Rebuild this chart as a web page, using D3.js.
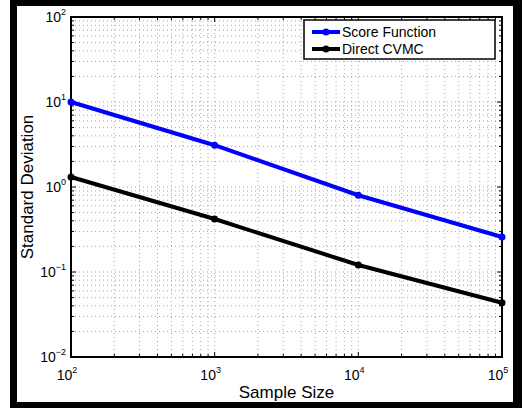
<!DOCTYPE html>
<html>
<head>
<meta charset="utf-8">
<script src="https://cdn.jsdelivr.net/npm/d3@7"></script>
<style>
  body { margin: 0; background: #fff; }
  svg { display: block; font-family: "Liberation Sans", Arial, Helvetica, sans-serif; }
</style>
</head>
<body>
<div class="chartDiv"></div>
<script>
"use strict";

// Data:
var sampleSizes = [100, 1000, 10000, 100000];
var scoreFunction = [10, 3.1, 0.80, 0.258];
var directCVMC = [1.31, 0.42, 0.121, 0.0435];
var xTickExps = [2, 3, 4, 5];
var yTickExps = [-2, -1, 0, 1, 2];
var seriesNames = ["Score Function", "Direct CVMC"];
var seriesColors = ["#0000ff", "#000000"];

// SVG Properties:
var width = 522, height = 409;
var plot = { left: 71, right: 502, top: 17, bottom: 357 };

var svg = d3.select(".chartDiv").append("svg")
    .attr("width", width)
    .attr("height", height);

// black frame around the figure
svg.append("path")
    .attr("fill-rule", "evenodd")
    .attr("fill", "#000")
    .attr("d", "M10,0H522V408H10Z M17,6H513V402H17Z");

var x = d3.scaleLog().domain([1e2, 1e5]).range([plot.left, plot.right]);
var y = d3.scaleLog().domain([1e-2, 1e2]).range([plot.bottom, plot.top]);

var g = svg.append("g");

// grid (major + minor), dotted
var xGrid = [], yGrid = [];
for (var e = 2; e < 5; e++)
    for (var m = 1; m <= 9; m++) xGrid.push(m * Math.pow(10, e));
for (var e2 = -2; e2 < 2; e2++)
    for (var m2 = 1; m2 <= 9; m2++) yGrid.push(m2 * Math.pow(10, e2));

g.selectAll(".xgrid").data(xGrid.slice(1)).enter().append("line")
    .attr("x1", function(d) { return x(d); })
    .attr("x2", function(d) { return x(d); })
    .attr("y1", plot.top).attr("y2", plot.bottom)
    .attr("stroke", "#a8a8a8").attr("stroke-width", 1)
    .attr("stroke-dasharray", "1,3");

g.selectAll(".ygrid").data(yGrid.slice(1)).enter().append("line")
    .attr("y1", function(d) { return y(d); })
    .attr("y2", function(d) { return y(d); })
    .attr("x1", plot.left).attr("x2", plot.right)
    .attr("stroke", "#a8a8a8").attr("stroke-width", 1)
    .attr("stroke-dasharray", "1,3");

// minor/major ticks inside the box
var tickG = g.append("g").attr("stroke", "#000").attr("stroke-width", 1);
xGrid.concat([1e5]).forEach(function(d) {
    var len = (Math.log10(d) % 1 === 0) ? 5 : 3;
    tickG.append("line").attr("x1", x(d)).attr("x2", x(d)).attr("y1", plot.bottom).attr("y2", plot.bottom - len);
    tickG.append("line").attr("x1", x(d)).attr("x2", x(d)).attr("y1", plot.top).attr("y2", plot.top + len);
});
yGrid.concat([1e2]).forEach(function(d) {
    var len = (Math.abs(Math.log10(d) % 1) < 1e-9) ? 5 : 3;
    tickG.append("line").attr("y1", y(d)).attr("y2", y(d)).attr("x1", plot.left).attr("x2", plot.left + len);
    tickG.append("line").attr("y1", y(d)).attr("y2", y(d)).attr("x1", plot.right).attr("x2", plot.right - len);
});

// box
g.append("rect")
    .attr("x", plot.left).attr("y", plot.top)
    .attr("width", plot.right - plot.left).attr("height", plot.bottom - plot.top)
    .attr("fill", "none").attr("stroke", "#000").attr("stroke-width", 2);

// tick labels
var xLab = g.selectAll(".xlab").data(xTickExps).enter().append("text")
    .attr("x", function(d) { return x(Math.pow(10, d)) - 4; })
    .attr("y", 380)
    .attr("text-anchor", "middle")
    .attr("font-size", 14);
xLab.append("tspan").text("10");
xLab.append("tspan").attr("dy", -7).attr("font-size", 9).text(function(d) { return d; });

var yLab = g.selectAll(".ylab").data(yTickExps).enter().append("text")
    .attr("x", 66)
    .attr("y", function(d) { return y(Math.pow(10, d)) + 5; })
    .attr("text-anchor", "end")
    .attr("font-size", 14);
yLab.append("tspan").text("10");
yLab.append("tspan").attr("dy", -7).attr("font-size", 9)
    .text(function(d) { return d < 0 ? "\u2212" + Math.abs(d) : d; });

// axis titles
svg.append("text")
    .attr("x", (plot.left + plot.right) / 2).attr("y", 398)
    .attr("text-anchor", "middle").attr("font-size", 17)
    .text("Sample Size");
svg.append("text")
    .attr("transform", "translate(33," + ((plot.top + plot.bottom) / 2) + ") rotate(-90)")
    .attr("text-anchor", "middle").attr("font-size", 17)
    .text("Standard Deviation");

// series
var series = [scoreFunction, directCVMC];
var line = d3.line()
    .x(function(d) { return x(d[0]); })
    .y(function(d) { return y(d[1]); });

series.forEach(function(vals, i) {
    var pts = sampleSizes.map(function(s, j) { return [s, vals[j]]; });
    g.append("path").datum(pts)
        .attr("d", line)
        .attr("fill", "none")
        .attr("stroke", seriesColors[i])
        .attr("stroke-width", 4);
    g.selectAll(".pt" + i).data(pts).enter().append("circle")
        .attr("cx", function(d) { return x(d[0]); })
        .attr("cy", function(d) { return y(d[1]); })
        .attr("r", 3.5)
        .attr("fill", seriesColors[i]);
});

// legend
var leg = svg.append("g");
leg.append("rect")
    .attr("x", 304).attr("y", 20).attr("width", 191).attr("height", 39)
    .attr("fill", "#fff").attr("stroke", "#000").attr("stroke-width", 1.5);
seriesNames.forEach(function(name, i) {
    var ly = 32 + i * 17;
    leg.append("line")
        .attr("x1", 312).attr("x2", 340).attr("y1", ly).attr("y2", ly)
        .attr("stroke", seriesColors[i]).attr("stroke-width", 4);
    leg.append("circle").attr("cx", 326).attr("cy", ly).attr("r", 3.5).attr("fill", seriesColors[i]);
    leg.append("text")
        .attr("x", 342).attr("y", ly + 5)
        .attr("font-size", 14)
        .text(name);
});
</script>
</body>
</html>
